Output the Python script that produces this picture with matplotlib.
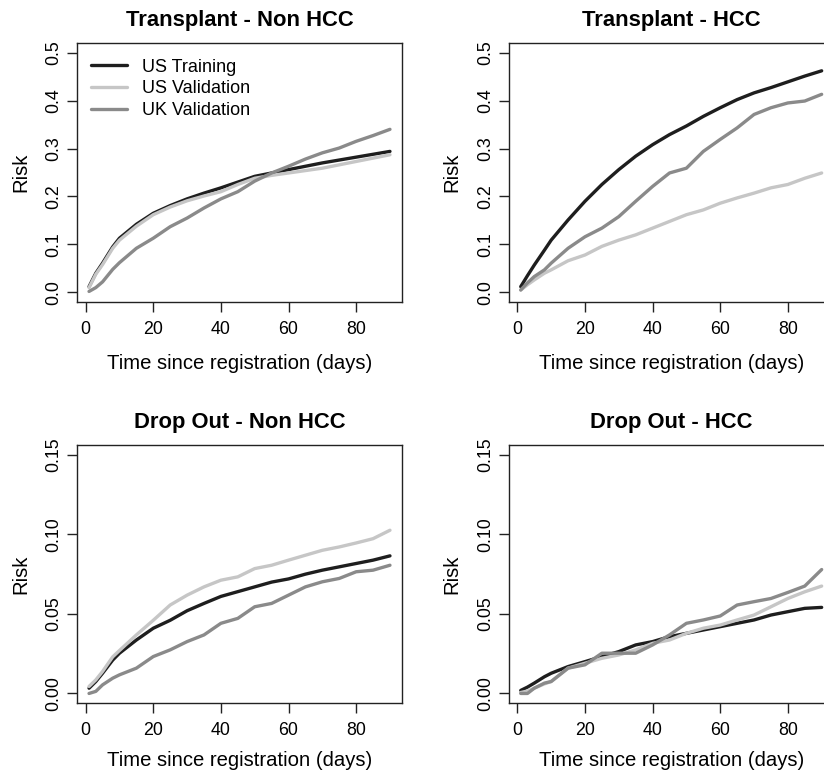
import matplotlib
matplotlib.use("Agg")
import matplotlib.pyplot as plt

plt.rcParams['font.family'] = ['Liberation Sans', 'DejaVu Sans']

days = [1, 3, 5, 8, 10, 15, 20, 25, 30, 35, 40, 45, 50, 55, 60, 65, 70, 75, 80, 85, 90]

series_names = ["US Training", "US Validation", "UK Validation"]
series_colors = ["#1e1e1e", "#c6c6c6", "#8a8a8a"]

# Transplant - Non HCC
tx_non_us_train = [0.012, 0.040, 0.061, 0.095, 0.113, 0.142, 0.165, 0.181, 0.195, 0.207, 0.218, 0.230,
                   0.242, 0.249, 0.256, 0.263, 0.270, 0.276, 0.282, 0.288, 0.294]
tx_non_us_val = [0.010, 0.038, 0.058, 0.092, 0.109, 0.138, 0.162, 0.178, 0.191, 0.201, 0.210, 0.225,
                 0.238, 0.244, 0.249, 0.254, 0.259, 0.266, 0.273, 0.280, 0.287]
tx_non_uk_val = [0.002, 0.010, 0.022, 0.048, 0.062, 0.092, 0.113, 0.137, 0.155, 0.176, 0.195, 0.210,
                 0.232, 0.249, 0.263, 0.278, 0.291, 0.301, 0.315, 0.327, 0.340]

# Transplant - HCC
tx_hcc_us_train = [0.012, 0.035, 0.057, 0.088, 0.109, 0.151, 0.190, 0.225, 0.256, 0.284, 0.308, 0.329,
                   0.347, 0.367, 0.385, 0.402, 0.416, 0.427, 0.439, 0.451, 0.462]
tx_hcc_us_val = [0.005, 0.016, 0.026, 0.040, 0.047, 0.066, 0.078, 0.096, 0.109, 0.120, 0.134, 0.148,
                 0.162, 0.172, 0.186, 0.197, 0.207, 0.218, 0.225, 0.238, 0.249]
tx_hcc_uk_val = [0.005, 0.020, 0.033, 0.047, 0.061, 0.092, 0.116, 0.134, 0.158, 0.190, 0.221, 0.249,
                 0.259, 0.294, 0.319, 0.343, 0.371, 0.385, 0.395, 0.399, 0.413]

# Drop Out - Non HCC
do_non_us_train = [0.0033, 0.0075, 0.0127, 0.021, 0.0253, 0.0336, 0.041, 0.046, 0.052, 0.0566, 0.061,
                   0.064, 0.067, 0.070, 0.072, 0.075, 0.0775, 0.0796, 0.0817, 0.0838, 0.0865]
do_non_us_val = [0.0044, 0.0085, 0.0138, 0.023, 0.027, 0.0368, 0.046, 0.0556, 0.0618, 0.067, 0.0712,
                 0.0733, 0.0785, 0.0806, 0.0838, 0.0869, 0.090, 0.0921, 0.0946, 0.0973, 0.1026]
do_non_uk_val = [0.0, 0.0013, 0.0054, 0.0096, 0.0117, 0.0159, 0.0232, 0.0274, 0.0326, 0.0368, 0.0441,
                 0.0472, 0.0545, 0.0566, 0.0618, 0.067, 0.0702, 0.0723, 0.0765, 0.0775, 0.0806]

# Drop Out - HCC
do_hcc_us_train = [0.0019, 0.0040, 0.0065, 0.0105, 0.0127, 0.0169, 0.020, 0.0232, 0.0263, 0.0305, 0.0326,
                   0.0357, 0.0378, 0.0399, 0.042, 0.0441, 0.0462, 0.0493, 0.0514, 0.0535, 0.0541]
do_hcc_us_val = [0.0006, 0.0015, 0.0033, 0.006, 0.0075, 0.0159, 0.019, 0.0221, 0.0242, 0.0274, 0.0315,
                 0.0336, 0.0378, 0.041, 0.043, 0.0462, 0.0493, 0.0545, 0.0597, 0.0639, 0.0675]
do_hcc_uk_val = [0.0, 0.0, 0.0033, 0.0065, 0.0075, 0.0159, 0.018, 0.0253, 0.0253, 0.0253, 0.0305,
                 0.0368, 0.0441, 0.0462, 0.0487, 0.0556, 0.0577, 0.0597, 0.0635, 0.0675, 0.0779]

panels = [
    ("Transplant - Non HCC", [tx_non_us_train, tx_non_us_val, tx_non_uk_val], 0.5, 0.1),
    ("Transplant - HCC", [tx_hcc_us_train, tx_hcc_us_val, tx_hcc_uk_val], 0.5, 0.1),
    ("Drop Out - Non HCC", [do_non_us_train, do_non_us_val, do_non_uk_val], 0.15, 0.05),
    ("Drop Out - HCC", [do_hcc_us_train, do_hcc_us_val, do_hcc_uk_val], 0.15, 0.05),
]

W, H = 824, 774
fig = plt.figure(figsize=(W / 100, H / 100), dpi=100)

# axes boxes in pixels (left, top, right, bottom); right column runs past the edge
boxes = [(77, 43, 402, 302), (508.7, 43, 833.7, 302),
         (77, 445.3, 402, 703), (508.7, 445.3, 833.7, 703)]

for i, (title, curves, ymax, ystep) in enumerate(panels):
    l, t, r, b = boxes[i]
    ax = fig.add_axes([l / W, 1 - b / H, (r - l) / W, (b - t) / H])
    for vals, name, col in zip(curves, series_names, series_colors):
        ax.plot(days, vals, color=col, lw=2.4, label=name, solid_capstyle="round")
    ax.set_xlim(1 - 0.04 * 89, 90 + 0.04 * 89)
    ax.set_ylim(-0.04 * ymax, ymax * 1.04)
    ax.set_xticks([0, 20, 40, 60, 80])
    nt = int(round(ymax / ystep))
    yt = [k * ystep for k in range(nt + 1)]
    ax.set_yticks(yt)
    if ystep < 0.1:
        ax.set_yticklabels(["%.2f" % v for v in yt])
    else:
        ax.set_yticklabels(["%.1f" % v for v in yt])
    ax.tick_params(axis="both", direction="out", length=7, width=1.0, labelsize=12.8, color="#222222")
    ax.tick_params(axis="x", pad=6.5)
    ax.tick_params(axis="y", pad=3.5)
    for lab in ax.get_yticklabels():
        lab.set_rotation(90)
        lab.set_va("center")
    for sp in ax.spines.values():
        sp.set_linewidth(1.0)
        sp.set_color("#222222")
    top_row = i < 2
    ax.set_title(title, fontsize=15.8, fontweight="bold", pad=12 if top_row else 12.5)
    ax.set_xlabel("Time since registration (days)", fontsize=14.6, labelpad=12 if top_row else 8.5)
    ax.set_ylabel("Risk", fontsize=14.6, labelpad=11)
    if i == 0:
        ax.legend(loc="upper left", bbox_to_anchor=(0.0215, 0.968), frameon=False, fontsize=13,
                  handlelength=2.0, handletextpad=0.8, labelspacing=0.26, borderaxespad=0)

fig.savefig("out.png", dpi=100)
